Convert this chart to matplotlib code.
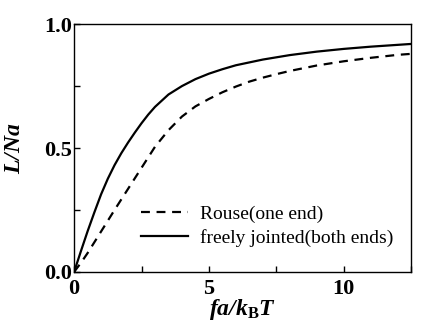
import numpy as np
import matplotlib
matplotlib.use("Agg")
import matplotlib.pyplot as plt

# values
x_rouse = [0, 0.25, 0.5, 1.0, 1.5, 2.0, 2.5, 3.0, 3.5, 4.0, 4.5, 5.0, 5.5,
           6.0, 6.5, 7.0, 7.5, 8.0, 9.0, 10.0, 11.0, 12.0, 12.5]
y_rouse = [0, 0.036, 0.076, 0.163, 0.25, 0.335, 0.42, 0.505, 0.572, 0.627, 0.668,
           0.698, 0.725, 0.748, 0.768, 0.784, 0.798, 0.811, 0.833, 0.850, 0.864,
           0.876, 0.880]

x_fjc = [0, 0.25, 0.5, 0.75, 1.0, 1.25, 1.5, 1.75, 2.0, 2.25, 2.5, 2.75, 3.0,
         3.5, 4.0, 4.5, 5.0, 5.5, 6.0, 7.0, 8.0, 9.0, 10.0, 11.0, 12.5]
y_fjc = [0, 0.083, 0.164, 0.240, 0.313, 0.376, 0.431, 0.479, 0.522, 0.562, 0.600,
         0.635, 0.666, 0.716, 0.750, 0.778, 0.800, 0.818, 0.834, 0.857, 0.875,
         0.889, 0.900, 0.909, 0.920]

xticks = [0, 5, 10]
yticks = [0.0, 0.5, 1.0]

plt.rcParams['font.family'] = ['Liberation Serif', 'DejaVu Serif']
plt.rcParams['mathtext.fontset'] = 'custom'
plt.rcParams['mathtext.rm'] = 'Liberation Serif'
plt.rcParams['mathtext.it'] = 'Liberation Serif:italic'
plt.rcParams['mathtext.bf'] = 'Liberation Serif:bold'
plt.rcParams['mathtext.bfit'] = 'Liberation Serif:bold:italic'

fig = plt.figure(figsize=(4.36, 3.26), dpi=100)
ax = fig.add_axes([0.17, 0.166, 0.773, 0.76])

ax.plot(x_rouse, y_rouse, color='black', lw=1.6, ls=(0, (4, 3)), label='Rouse(one end)')
ax.plot(x_fjc, y_fjc, color='black', lw=1.6, label='freely jointed(both ends)')

ax.set_xlim(0, 12.5)
ax.set_ylim(0, 1.0)
ax.set_xticks(xticks)
ax.set_yticks(yticks)
ax.set_xticks([2.5, 7.5, 12.5], minor=True)
ax.set_yticks([0.25, 0.75], minor=True)
ax.set_xticklabels([str(t) for t in xticks], fontsize=16, fontweight='bold')
ax.set_yticklabels(['%.1f' % t for t in yticks], fontsize=16, fontweight='bold')
ax.tick_params(which='both', direction='in', length=4, width=1)
ax.tick_params(axis='x', pad=5)
ax.tick_params(axis='y', pad=1.5)
for s in ax.spines.values():
    s.set_linewidth(1.0)

ax.set_xlabel(r'$\mathbfit{fa/k}_{\mathbf{B}}\mathbfit{T}$', fontsize=17, labelpad=-1.5)
ax.set_ylabel(r'$\mathbfit{L/Na}$', fontsize=17, labelpad=14)

ax.legend(loc='upper left', bbox_to_anchor=(0.176, 0.30), frameon=False, fontsize=14,
          handlelength=2.4, handletextpad=0.6, labelspacing=0.3, borderaxespad=0)

fig.savefig('out.png', dpi=100)
